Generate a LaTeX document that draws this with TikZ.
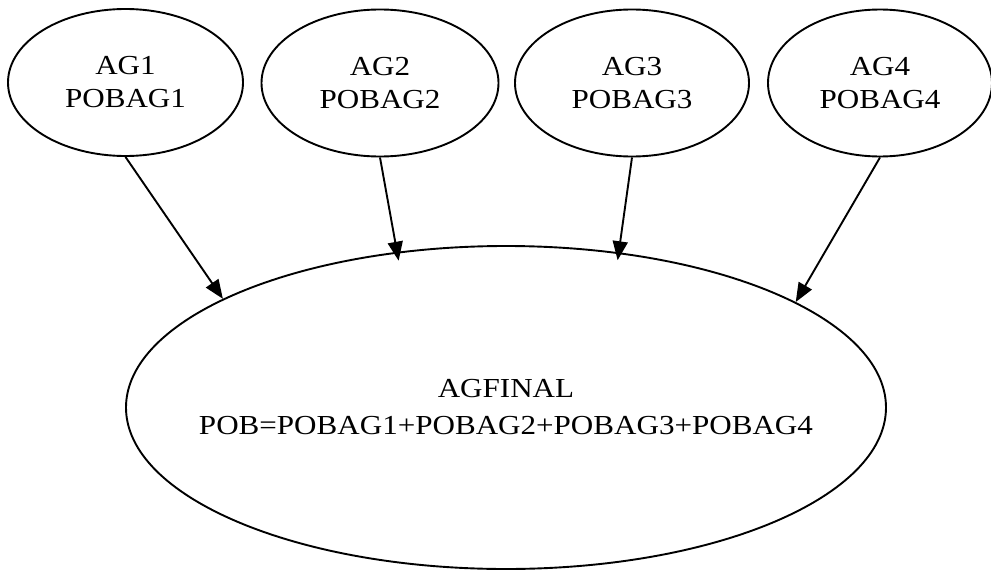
\documentclass[tikz,border=0pt]{standalone}
\usepackage{fontspec}
\usepackage{graphicx}
\setmainfont{Liberation Serif}
\usetikzlibrary{shapes.geometric,arrows.meta}
\newcommand\hs[1]{\scalebox{1.13}[1]{#1}}
\tikzset{
  agnode/.style={ellipse, draw, line width=1.9pt, inner sep=0pt,
    minimum width=#1, minimum height=147pt, align=center,
    font=\fontsize{27.5}{33}\selectfont},
  bignode/.style={ellipse, draw, line width=1.9pt, inner sep=0pt,
    minimum width=760pt, minimum height=323pt},
  biglabel/.style={align=center, inner sep=0pt,
    font=\fontsize{27.5}{37}\selectfont},
  conn/.style={line width=1.9pt, -{Triangle[length=19pt,width=15pt]}}
}
\begin{document}
\begin{tikzpicture}[x=1pt,y=-1pt]
\useasboundingbox (0,0) rectangle (991,570);
\begin{scope}
\clip (0,0) rectangle (991,570);
\node[agnode=235pt] (ag1) at (125.5,82.5) {\hs{AG1}\\\hs{POBAG1}};
\node[agnode=237pt] (ag2) at (380,83) {\hs{AG2}\\\hs{POBAG2}};
\node[agnode=234pt] (ag3) at (632,83) {\hs{AG3}\\\hs{POBAG3}};
\node[agnode=224pt] (ag4) at (880,83) {\hs{AG4}\\\hs{POBAG4}};
\node[bignode] (fin) at (506,407.5) {};
\node[biglabel] (finlabel) at (fin.center) {\hs{AGFINAL}\\\hs{POB=POBAG1+POBAG2+POBAG3+POBAG4}};
\end{scope}
\draw[conn] (ag1.south) -- (fin.159.3);
\draw[conn, shorten >=-9pt] (ag2.south) -- (fin.125.6);
\draw[conn, shorten >=-8pt] (ag3.south) -- (fin.54.4);
\draw[conn] (ag4.south) -- (fin.20.7);
\end{tikzpicture}
\end{document}
